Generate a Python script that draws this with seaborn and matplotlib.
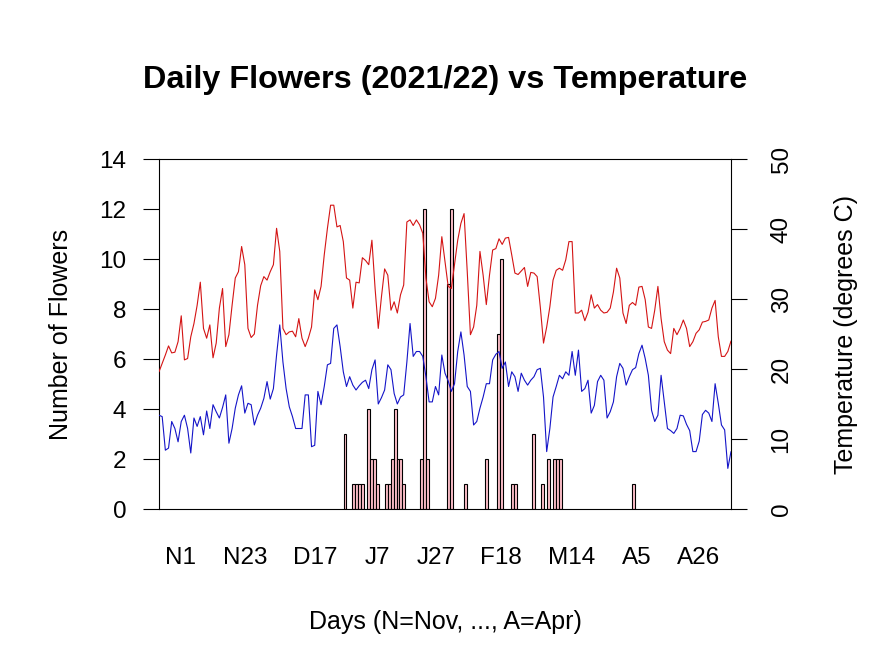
import numpy as np
import matplotlib
matplotlib.use("Agg")
import matplotlib.pyplot as plt
import seaborn as sns

# days counted from 1 Nov 2021 (0) to 30 Apr 2022 (180)
tick_days = [0, 22, 46, 67, 87, 109, 133, 155, 176]
tick_labels = ["N1", "N23", "D17", "J7", "J27", "F18", "M14", "A5", "A26"]

# flower counts (only days with flowers)
flower_days = [56, 59, 60, 61, 62, 64, 65, 66, 67, 70, 71, 72, 73, 74, 75, 76,
               82, 83, 84, 91, 92, 97, 104, 108, 109, 113, 114, 120, 123, 125,
               127, 128, 129, 154]
flower_counts = [3, 1, 1, 1, 1, 4, 2, 2, 1, 1, 1, 2, 4, 2, 2, 1,
                 2, 12, 2, 9, 12, 1, 2, 7, 10, 1, 1, 3, 1, 2,
                 2, 2, 2, 1]

# daily max / min temperature (degrees C)
max_temp = [19.6, 20.8, 22.0, 23.3, 22.3, 22.4, 23.9, 27.6, 21.3, 21.5,
            24.6, 26.5, 29.1, 32.4, 25.8, 24.4, 26.3, 21.6, 23.7, 28.7,
            31.5, 23.2, 24.9, 29.1, 33.0, 33.9, 37.5, 34.9, 25.8, 24.5,
            25.0, 29.1, 31.9, 33.2, 32.7, 33.9, 34.9, 40.1, 36.8, 25.8,
            24.9, 25.3, 25.4, 24.6, 27.2, 24.4, 23.2, 24.4, 26.0, 31.3,
            29.9, 31.8, 36.3, 40.1, 43.4, 43.4, 40.3, 40.5, 38.2, 33.0,
            32.7, 28.7, 32.4, 32.3, 35.9, 35.5, 34.9, 38.4, 31.5, 25.8,
            30.3, 34.3, 33.4, 28.4, 29.6, 28.0, 30.6, 32.0, 41.0, 41.3,
            40.5, 41.3, 40.6, 39.4, 33.0, 29.6, 28.9, 30.1, 33.4, 38.9,
            35.3, 31.8, 31.5, 34.9, 38.4, 40.8, 42.2, 33.9, 24.9, 26.0,
            29.1, 36.8, 33.4, 29.2, 33.4, 37.0, 37.2, 38.6, 37.8, 38.7,
            38.8, 36.3, 33.7, 33.5, 34.0, 34.5, 31.8, 33.8, 33.7, 33.2,
            28.8, 23.7, 26.0, 28.9, 32.7, 34.1, 34.4, 34.1, 35.6, 38.2,
            38.2, 28.0, 28.0, 28.4, 26.9, 28.1, 30.6, 28.7, 29.2, 28.4,
            28.0, 28.1, 28.7, 31.0, 34.4, 33.0, 28.0, 26.5, 29.1, 29.5,
            29.1, 31.7, 31.8, 29.9, 26.0, 25.8, 28.4, 31.8, 27.2, 23.9,
            22.7, 22.2, 25.8, 24.9, 25.8, 27.0, 25.8, 23.2, 23.9, 25.1,
            25.6, 26.7, 26.8, 27.0, 28.7, 29.8, 24.6, 21.8, 21.8, 22.5, 24.0]

min_temp = [13.4, 13.2, 8.4, 8.7, 12.5, 11.5, 9.6, 12.5, 13.4, 11.5,
            8.0, 13.0, 11.8, 13.2, 10.6, 14.0, 11.5, 14.9, 13.9, 13.0,
            14.5, 16.3, 9.4, 11.5, 14.4, 16.3, 17.6, 13.7, 15.1, 14.9,
            12.0, 13.4, 14.4, 15.8, 18.2, 15.7, 17.2, 22.0, 26.3, 21.0,
            17.2, 14.6, 13.2, 11.5, 11.5, 11.5, 16.3, 16.3, 8.9, 9.1,
            16.8, 14.9, 17.5, 20.6, 20.8, 25.8, 26.3, 23.2, 19.6, 17.5,
            18.9, 17.7, 17.0, 17.6, 18.1, 18.4, 17.2, 19.9, 21.3, 15.0,
            15.9, 17.0, 20.6, 19.9, 16.5, 15.0, 16.0, 16.3, 21.0, 26.5,
            21.8, 22.5, 22.5, 21.8, 18.9, 15.3, 15.3, 17.5, 16.3, 22.0,
            19.4, 18.3, 16.8, 17.9, 22.5, 25.3, 22.0, 17.5, 16.8, 12.0,
            12.5, 14.4, 16.0, 17.9, 17.9, 21.3, 22.1, 22.5, 20.1, 21.0,
            17.5, 19.6, 18.9, 16.8, 19.4, 18.4, 17.7, 18.4, 18.9, 19.9,
            20.1, 16.0, 8.2, 11.5, 16.0, 17.5, 19.1, 18.6, 19.6, 19.1,
            22.5, 19.1, 22.7, 16.8, 17.2, 18.4, 13.7, 14.8, 18.2, 19.1,
            18.4, 13.0, 13.9, 15.3, 18.9, 20.8, 20.1, 17.7, 18.9, 19.9,
            20.2, 22.2, 23.4, 21.5, 19.1, 14.1, 12.5, 13.4, 19.1, 15.3,
            11.5, 11.2, 10.8, 11.5, 13.4, 13.3, 12.1, 11.2, 8.2, 8.2,
            9.7, 13.5, 14.1, 13.7, 12.5, 17.9, 15.1, 12.0, 11.3, 5.8, 8.2]

days = np.arange(len(max_temp))

sns.set_style("ticks")
plt.rcParams["font.family"] = ["Liberation Sans", "DejaVu Sans"]
plt.rcParams["text.color"] = "black"
plt.rcParams["axes.labelcolor"] = "black"
plt.rcParams["xtick.color"] = "black"
plt.rcParams["ytick.color"] = "black"

W, H = 891, 668
fig = plt.figure(figsize=(W / 100, H / 100), dpi=100)
rect = [159 / W, 1 - 509 / H, 572 / W, 350 / H]

# flowers (left axis)
ax = fig.add_axes(rect)
ax.bar(flower_days, flower_counts, width=1, color="pink",
       edgecolor="black", linewidth=0.8)
ax.set_xlim(-7.13, 187.03)
ax.set_ylim(0, 14)
ax.set_yticks(range(0, 15, 2))
ax.set_xticks(tick_days, tick_labels)
ax.tick_params(axis="x", length=0, pad=27, labelsize=17.5)
ax.tick_params(axis="y", direction="out", length=11.5, width=0.8,
               pad=12, labelsize=17.5)
for s in ax.spines.values():
    s.set_linewidth(0.8)
    s.set_color("black")
ax.set_ylabel("Number of Flowers", fontsize=18, labelpad=19)
ax.set_xlabel("Days (N=Nov, ..., A=Apr)", fontsize=18, labelpad=30)

# temperature (right axis)
ax2 = fig.add_axes(rect, facecolor="none")
sns.lineplot(x=days, y=max_temp, color="#d41414", linewidth=0.8, ax=ax2)
sns.lineplot(x=days, y=min_temp, color="#1414c8", linewidth=0.8, ax=ax2)
ax2.set_xlim(0, 180)
ax2.set_ylim(0, 50)
ax2.set_xticks([])
ax2.yaxis.tick_right()
ax2.yaxis.set_label_position("right")
ax2.set_yticks(range(0, 51, 10))
ax2.tick_params(axis="y", direction="out", length=11.5, width=0.8,
                pad=17, labelsize=17.5, labelrotation=90)
for lab in ax2.get_yticklabels():
    lab.set_va("center")
for s in ax2.spines.values():
    s.set_visible(False)
ax2.set_ylabel("Temperature (degrees C)", fontsize=18, labelpad=30)

fig.text(445 / W, 1 - 80 / H, "Daily Flowers (2021/22) vs Temperature",
         ha="center", va="center", fontsize=23.3, fontweight="bold")

fig.savefig("out.png", dpi=100)
